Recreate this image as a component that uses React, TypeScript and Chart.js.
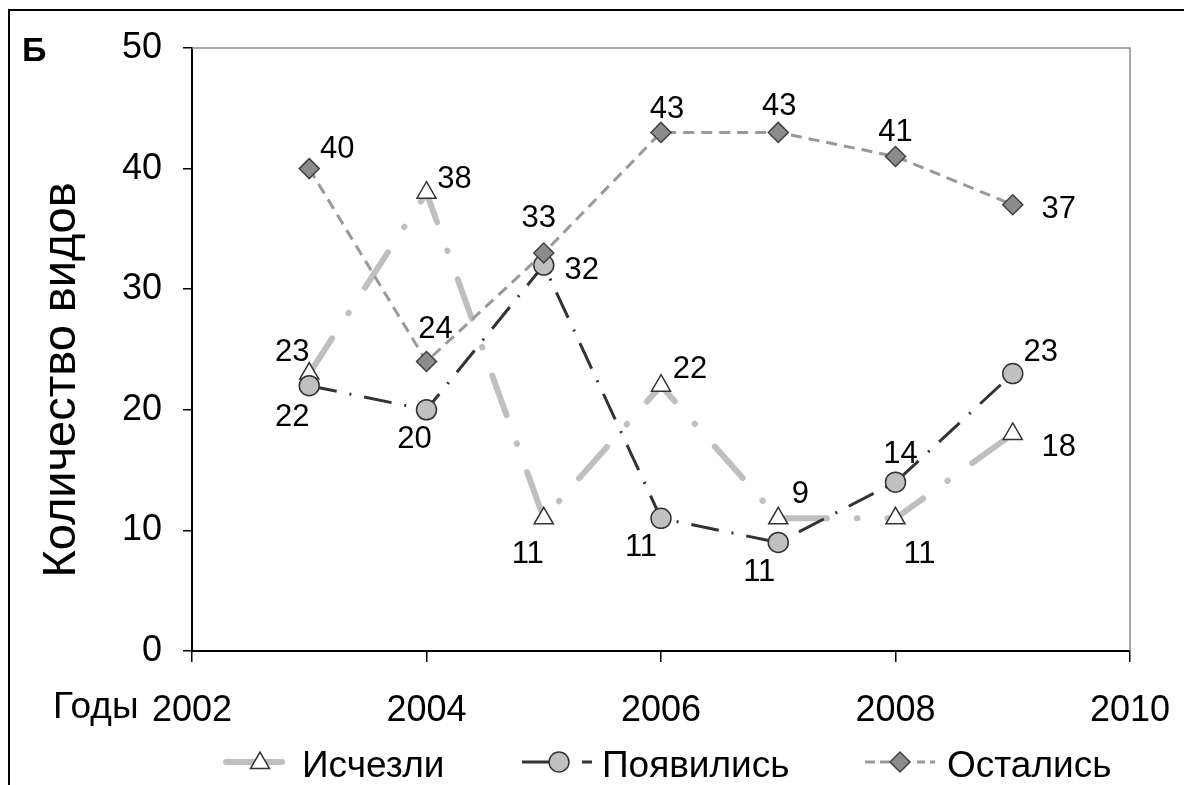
import React, { useEffect, useRef } from 'react';
import { Chart, registerables } from 'chart.js';

Chart.register(...registerables);

// ---- data ----
const years = [2003, 2004, 2005, 2006, 2007, 2008, 2009];
const disappeared = [23, 38, 11, 22, 11, 11, 18];
const appeared = [22, 20, 32, 11, 9, 14, 23];
const remained = [40, 24, 33, 43, 43, 41, 37];
const seriesNames = ['Исчезли', 'Появились', 'Остались'];
const xMin = 2002;
const xMax = 2010;
const xStep = 2;
const yMin = 0;
const yMax = 50;
const yStep = 10;
const yTitle = 'Количество видов';
const xTitle = 'Годы';
const panelLabel = 'Б';

// ---- label placement (pixel offsets from each point) ----
const disappearedLabelOffsets = [[-17, -24], [28, -16], [-16, 34], [29, -19], [-19, 52], [24, 34], [46, 11]];
const appearedLabelOffsets = [[-17, 29], [-12, 27], [38, 3], [-20, 27], [22, -50], [5, -30], [28, -24]];
const remainedLabelOffsets = [[28, -22], [9, -35], [-5, -37], [6, -25], [1, -28], [0, -27], [46, 2]];

const FONT = '"Liberation Sans", Arial, sans-serif';

function drawTriangle(ctx: CanvasRenderingContext2D, x: number, y: number, r: number) {
  ctx.beginPath();
  for (let k = 0; k < 3; k++) {
    const a = (k * 2 * Math.PI) / 3;
    const px = x + Math.sin(a) * r;
    const py = y - Math.cos(a) * r;
    if (k === 0) ctx.moveTo(px, py); else ctx.lineTo(px, py);
  }
  ctx.closePath();
}

const decorPlugin = {
  id: 'decor',
  beforeDatasetsDraw(chart: any) {
    const { ctx, chartArea } = chart;
    ctx.save();
    ctx.strokeStyle = '#8c8c8c';
    ctx.lineWidth = 1.5;
    ctx.setLineDash([]);
    ctx.beginPath();
    ctx.moveTo(chartArea.left, chartArea.top);
    ctx.lineTo(chartArea.right, chartArea.top);
    ctx.lineTo(chartArea.right, chartArea.bottom);
    ctx.stroke();
    ctx.restore();
  },
  afterDatasetsDraw(chart: any) {
    const { ctx } = chart;
    const offsetSets = [disappearedLabelOffsets, appearedLabelOffsets, remainedLabelOffsets];
    const valueSets = [disappeared, appeared, remained];
    ctx.save();
    ctx.fillStyle = '#000';
    ctx.font = `31px ${FONT}`;
    ctx.textAlign = 'center';
    ctx.textBaseline = 'alphabetic';
    for (let d = 0; d < 3; d++) {
      const meta = chart.getDatasetMeta(d);
      meta.data.forEach((pt: any, i: number) => {
        const [ox, oy] = offsetSets[d][i];
        ctx.fillText(String(valueSets[d][i]), pt.x + ox, pt.y + oy + 11);
      });
    }
    ctx.restore();
  },
  afterDraw(chart: any) {
    const { ctx } = chart;
    ctx.save();
    // outer frame
    ctx.strokeStyle = '#000';
    ctx.lineWidth = 2;
    ctx.setLineDash([]);
    ctx.beginPath();
    ctx.moveTo(9, 785);
    ctx.lineTo(9, 10);
    ctx.lineTo(1184, 10);
    ctx.stroke();

    ctx.fillStyle = '#000';
    // panel label
    ctx.font = `bold 34px ${FONT}`;
    ctx.textAlign = 'left';
    ctx.textBaseline = 'alphabetic';
    ctx.fillText(panelLabel, 22, 61);

    // x title
    ctx.font = `37px ${FONT}`;
    ctx.fillText(xTitle, 53, 718);

    // y title
    ctx.save();
    ctx.translate(75, 380);
    ctx.rotate(-Math.PI / 2);
    ctx.font = `47px ${FONT}`;
    ctx.textAlign = 'center';
    ctx.fillText(yTitle, 0, 0);
    ctx.restore();

    // legend
    const ly = 762;
    ctx.font = `37px ${FONT}`;
    ctx.textAlign = 'left';
    ctx.textBaseline = 'alphabetic';

    // item 1
    ctx.strokeStyle = '#bfbfbf';
    ctx.lineWidth = 6;
    ctx.lineCap = 'round';
    ctx.beginPath();
    ctx.moveTo(226, ly);
    ctx.lineTo(282, ly);
    ctx.stroke();
    ctx.lineCap = 'butt';
    drawTriangle(ctx, 260, ly + 1, 11);
    ctx.fillStyle = '#fff';
    ctx.fill();
    ctx.strokeStyle = '#333';
    ctx.lineWidth = 1.5;
    ctx.stroke();
    ctx.fillStyle = '#000';
    ctx.fillText(seriesNames[0], 302, 777);

    // item 2
    ctx.strokeStyle = '#333';
    ctx.lineWidth = 3;
    ctx.beginPath();
    ctx.moveTo(522, ly);
    ctx.lineTo(549, ly);
    ctx.moveTo(582, ly);
    ctx.lineTo(592, ly);
    ctx.stroke();
    ctx.beginPath();
    ctx.arc(559, ly, 10, 0, Math.PI * 2);
    ctx.fillStyle = '#c0c0c0';
    ctx.fill();
    ctx.lineWidth = 1.5;
    ctx.stroke();
    ctx.fillStyle = '#000';
    ctx.fillText(seriesNames[1], 602, 777);

    // item 3
    ctx.strokeStyle = '#999';
    ctx.lineWidth = 3;
    ctx.beginPath();
    [[865, 875], [880, 890], [917, 925], [930, 935]].forEach(([a, b]) => {
      ctx.moveTo(a, ly);
      ctx.lineTo(b, ly);
    });
    ctx.stroke();
    ctx.beginPath();
    ctx.moveTo(890, ly);
    ctx.lineTo(900, ly - 10);
    ctx.lineTo(910, ly);
    ctx.lineTo(900, ly + 10);
    ctx.closePath();
    ctx.fillStyle = '#8c8c8c';
    ctx.fill();
    ctx.strokeStyle = '#404040';
    ctx.lineWidth = 1.5;
    ctx.stroke();
    ctx.fillStyle = '#000';
    ctx.fillText(seriesNames[2], 947, 777);

    ctx.restore();
  },
};

export default function App() {
  const ref = useRef<HTMLCanvasElement>(null);

  useEffect(() => {
    document.body.style.margin = '0';
    const canvas = ref.current;
    if (!canvas) return;
    const toPoints = (vals: number[]) => years.map((x, i) => ({ x, y: vals[i] }));
    const chart = new Chart(canvas, {
      type: 'line',
      data: {
        datasets: [
          {
            label: seriesNames[0],
            data: toPoints(disappeared),
            borderColor: '#bfbfbf',
            borderWidth: 6,
            borderDash: [42, 30, 0.5, 30],
            borderCapStyle: 'round',
            borderJoinStyle: 'round',
            pointStyle: 'triangle',
            pointRadius: 11,
            pointBackgroundColor: '#ffffff',
            pointBorderColor: '#333333',
            pointBorderWidth: 1.5,
            tension: 0,
            fill: false,
            order: 2,
          },
          {
            label: seriesNames[1],
            data: toPoints(appeared),
            borderColor: '#333333',
            borderWidth: 3,
            borderDash: [28, 13, 2, 13],
            pointStyle: 'circle',
            pointRadius: 10,
            pointBackgroundColor: '#c0c0c0',
            pointBorderColor: '#333333',
            pointBorderWidth: 1.5,
            tension: 0,
            fill: false,
            order: 1,
          },
          {
            label: seriesNames[2],
            data: toPoints(remained),
            borderColor: '#999999',
            borderWidth: 3,
            borderDash: [11, 7],
            pointStyle: 'rectRot',
            pointRadius: 10,
            pointBackgroundColor: '#8c8c8c',
            pointBorderColor: '#404040',
            pointBorderWidth: 1.5,
            tension: 0,
            fill: false,
            order: 0,
          },
        ],
      },
      options: {
        responsive: false,
        maintainAspectRatio: false,
        animation: false,
        layout: { padding: { left: 0, top: 48, right: 54, bottom: 0 } },
        plugins: {
          legend: { display: false },
          tooltip: { enabled: false },
        },
        scales: {
          x: {
            type: 'linear',
            min: xMin,
            max: xMax,
            afterFit: (scale: any) => {
              scale.height = 134;
              scale.paddingLeft = 0;
              scale.paddingRight = 0;
            },
            ticks: {
              stepSize: xStep,
              color: '#000',
              padding: 27,
              maxRotation: 0,
              font: { family: FONT, size: 36 },
              callback: (v: any) => String(v),
            },
            grid: {
              drawOnChartArea: false,
              drawTicks: true,
              tickLength: 11,
              color: '#000',
              tickColor: '#000',
              lineWidth: 1.5,
            },
            border: { color: '#000', width: 2 },
          },
          y: {
            type: 'linear',
            min: yMin,
            max: yMax,
            afterFit: (scale: any) => {
              scale.width = 192;
              scale.paddingTop = 0;
              scale.paddingBottom = 0;
            },
            ticks: {
              stepSize: yStep,
              color: '#000',
              padding: 21,
              font: { family: FONT, size: 36 },
              callback: (v: any) => String(v),
            },
            grid: {
              drawOnChartArea: false,
              drawTicks: true,
              tickLength: 9,
              color: '#000',
              tickColor: '#000',
              lineWidth: 1.5,
            },
            border: { color: '#000', width: 2 },
          },
        },
      },
      plugins: [decorPlugin],
    } as any);
    return () => chart.destroy();
  }, []);

  return (
    <div style={{ width: 1184, height: 785, background: '#fff' }}>
      <canvas ref={ref} width={1184} height={785} style={{ display: 'block', width: 1184, height: 785 }} />
    </div>
  );
}
